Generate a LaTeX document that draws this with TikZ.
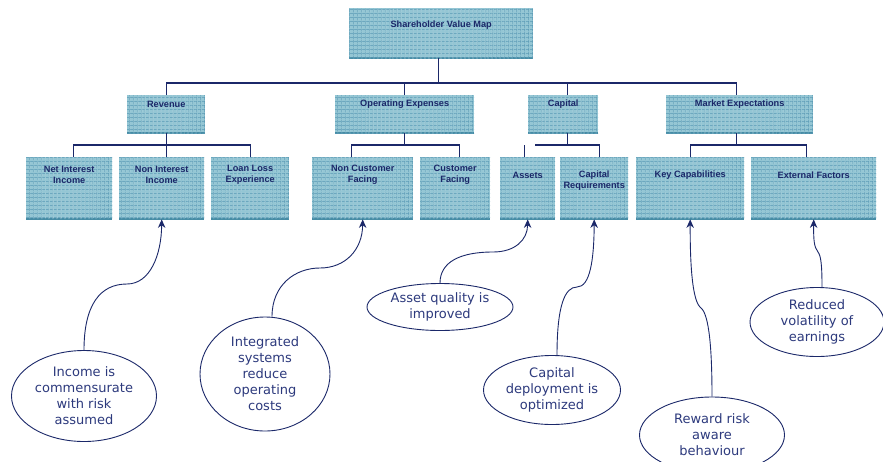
\documentclass[tikz,border=0pt]{standalone}
\usepackage{fontspec}
\setmainfont{Liberation Sans}
\newfontfamily\ellfont{DejaVu Sans}
\usetikzlibrary{shapes.geometric,arrows.meta,patterns.meta}
\definecolor{navy}{RGB}{27,40,105}
\definecolor{etext}{RGB}{45,58,125}
\definecolor{boxfill}{RGB}{148,198,212}
\definecolor{gridc}{RGB}{88,153,180}
\definecolor{edgec}{RGB}{70,140,165}
\begin{document}
\begin{tikzpicture}[x=1pt,y=-1pt,
 bx/.style={anchor=north west, inner sep=0pt, fill=boxfill,
   path picture={\draw[edgec,line width=2pt] (path picture bounding box.south west) -- (path picture bounding box.south east);},
   postaction={pattern={Lines[distance=4pt,line width=0.7pt]}, pattern color=gridc},
   postaction={pattern={Lines[angle=90,distance=4pt,line width=0.7pt]}, pattern color=gridc}},
 lab/.style={anchor=center, font=\fontsize{9.2}{11}\selectfont\bfseries, text=navy, align=center, inner sep=0pt},
 ell/.style={ellipse, draw=navy, line width=0.9pt, fill=white, inner sep=0pt, font=\ellfont\fontsize{13}{16}\selectfont, text=etext, align=center},
 ln/.style={navy, line width=1.1pt},
 arr/.style={navy, line width=0.9pt, -{Stealth[length=8.5pt,width=7.5pt]}}
]
\fill[white] (0,0) rectangle (883,461);
\useasboundingbox (0,0) rectangle (883,461);

% boxes
\node[bx, minimum width=184pt, minimum height=50pt, label={[lab,yshift=-17pt]north:Shareholder Value Map}] (svm) at (349,8) {};
\node[bx, minimum width=78pt, minimum height=38pt, label={[lab,yshift=-9pt]north:Revenue}] (rev) at (127,95) {};
\node[bx, minimum width=139pt, minimum height=38pt, label={[lab,yshift=-9pt]north:Operating Expenses}] (opx) at (335,95) {};
\node[bx, minimum width=70pt, minimum height=38pt, label={[lab,yshift=-9pt]north:Capital}] (cap) at (528,95) {};
\node[bx, minimum width=147pt, minimum height=38pt, label={[lab,yshift=-9pt]north:Market Expectations}] (mkt) at (666,95) {};

\node[bx, minimum width=86pt, minimum height=62pt, label={[lab,yshift=-17.5pt]north:Net Interest\\Income}] (nii) at (26,157) {};
\node[bx, minimum width=85pt, minimum height=62pt, label={[lab,yshift=-17.5pt]north:Non Interest\\Income}] (noi) at (119,157) {};
\node[bx, minimum width=78pt, minimum height=62pt, label={[lab,yshift=-17.5pt]north:Loan Loss\\Experience}] (llx) at (211,157) {};
\node[bx, minimum width=101pt, minimum height=62pt, label={[lab,yshift=-17.5pt]north:Non Customer\\Facing}] (ncf) at (312,157) {};
\node[bx, minimum width=70pt, minimum height=62pt, label={[lab,yshift=-17.5pt]north:Customer\\Facing}] (cuf) at (420,157) {};
\node[bx, minimum width=55pt, minimum height=62pt, label={[lab,yshift=-18pt]north:Assets}] (ast) at (500,157) {};
\node[bx, minimum width=68pt, minimum height=62pt, label={[lab,yshift=-23.5pt]north:Capital\\Requirements}] (crq) at (560,157) {};
\node[bx, minimum width=108pt, minimum height=62pt, label={[lab,yshift=-18pt]north:Key Capabilities}] (kcp) at (636,157) {};
\node[bx, minimum width=125pt, minimum height=62pt, label={[lab,yshift=-18pt]north:External Factors}] (exf) at (751,157) {};

% tree connectors
\coordinate (bus) at (0,83);
\coordinate (b2) at (0,145);
\coordinate (svmb) at ([xshift=-3pt]svm.south);
\coordinate (capt) at ([xshift=4pt]cap.north);
\coordinate (mktt) at ([xshift=-3pt]mkt.north);
\draw[ln] (svmb) -- (svmb |- bus);
\draw[ln] (rev.north) -- (rev.north |- bus) -- (mktt |- bus) -- (mktt);
\draw[ln] (opx.north) -- (opx.north |- bus);
\draw[ln] (capt) -- (capt |- bus);

\coordinate (niit) at ([xshift=4pt]nii.north);
\draw[ln] (rev.south) -- (rev.south |- noi.north);
\draw[ln] (niit) -- (niit |- b2) -- (llx.north |- b2) -- (llx.north);

\coordinate (ncft) at ([xshift=-11.5pt]ncf.north);
\coordinate (cuft) at ([xshift=4pt]cuf.north);
\draw[ln] (opx.south) -- (opx.south |- b2);
\draw[ln] (ncft) -- (ncft |- b2) -- (cuft |- b2) -- (cuft);

\coordinate (capb) at ([xshift=4pt]cap.south);
\coordinate (crqt) at ([xshift=5pt]crq.north);
\coordinate (astt) at ([xshift=-3.5pt]ast.north);
\coordinate (capl) at (535,145);
\draw[ln] (capb) -- (capb |- b2);
\draw[ln] (capl) -- (crqt |- b2) -- (crqt);
\draw[ln] (astt) -- (astt |- b2);

\coordinate (mktb) at ([xshift=-3pt]mkt.south);
\coordinate (exft) at ([xshift=-7.5pt]exf.north);
\draw[ln] (mktb) -- (mktb |- b2);
\draw[ln] (kcp.north) -- (kcp.north |- b2) -- (exft |- b2) -- (exft);

% ellipses
\node[ell, minimum width=145pt, minimum height=91pt] (e1) at (84,396) {Income is\\commensurate\\with risk\\assumed};
\node[ell, minimum width=130pt, minimum height=114pt] (e2) at (265,374) {Integrated\\systems\\reduce\\operating\\costs};
\node[ell, minimum width=146pt, minimum height=47pt] (e3) at (440,307) {Asset quality is\\improved};
\node[ell, minimum width=137pt, minimum height=69pt] (e4) at (552,390) {Capital\\deployment is\\optimized};
\node[ell, minimum width=145pt, minimum height=76pt] (e5) at (712,435) {Reward risk\\aware\\behaviour};
\node[ell, minimum width=134pt, minimum height=69pt] (e6) at (817,322) {Reduced\\volatility of\\earnings};

% arrows
\coordinate (m1) at (127,284);
\draw[arr] (e1.north) .. controls (84,305) and (100,284) .. (m1) .. controls (150,284) and (161.5,255) .. (noi.south);
\coordinate (m2) at (320,268);
\draw[arr] ([xshift=7pt]e2.north) .. controls (272,285) and (295,268) .. (m2) .. controls (345,268) and (362.5,250) .. (ncf.south);
\coordinate (m3) at (493,252);
\draw[arr] (e3.north) .. controls (440,262) and (460,252) .. (m3) .. controls (515,252) and (527.5,240) .. (ast.south);
\coordinate (m4) at (577,287);
\draw[arr] ([xshift=5pt]e4.north) .. controls (557,305) and (565,287) .. (m4) .. controls (590,287) and (594,260) .. (crq.south);
\coordinate (m5) at (700,307);
\draw[arr] (e5.north) .. controls (712,340) and (708,312) .. (m5) .. controls (693,300) and (690,270) .. (kcp.south);
\coordinate (m6) at (818,252);
\draw[arr] ([xshift=5pt]e6.north) .. controls (822,265) and (821,256) .. (m6) .. controls (814,247) and (813.5,240) .. (exf.south);
\end{tikzpicture}
\end{document}
